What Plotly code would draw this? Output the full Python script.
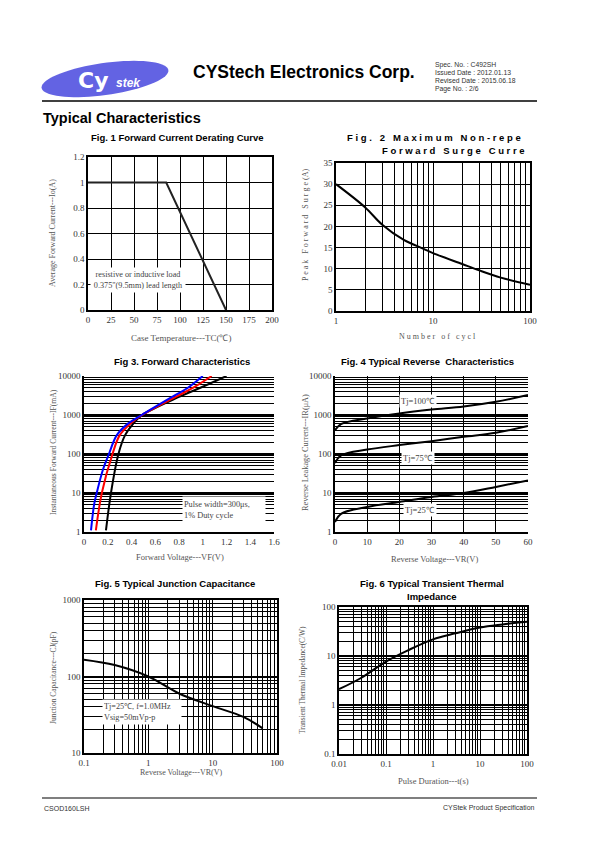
import numpy as np
import plotly.graph_objects as go

W, H = 595, 842
def px(x): return x / W
def py(y): return 1 - y / H

# ---------------- data ----------------
fig1_temp = [0, 85, 150]
fig1_current = [1.0, 1.0, 0.0]

fig2_cycles = [1, 2, 3, 5, 8, 10, 20, 30, 50, 100]
fig2_surge = [30.0, 24.5, 20.4, 16.8, 14.7, 13.7, 11.1, 9.6, 7.9, 6.2]

fig3_v100 = [0.059, 0.085, 0.107, 0.16, 0.21, 0.275, 0.37, 0.486, 0.75, 0.875, 1.0]
fig3_i100 = [1.1, 5, 10, 40, 100, 300, 600, 1000, 3000, 5000, 10000]
fig3_v75 = [0.10, 0.15, 0.24, 0.30, 0.39, 0.49, 0.78, 0.92, 1.075]
fig3_i75 = [1.1, 10, 100, 300, 600, 1000, 3000, 5000, 10000]
fig3_v25 = [0.185, 0.227, 0.29, 0.345, 0.415, 0.49, 0.81, 0.98, 1.2]
fig3_i25 = [1.1, 10, 100, 300, 600, 1000, 3000, 5000, 10000]

fig4_vr = [0, 2, 10, 20, 30, 40, 50, 60]
fig4_ir100 = [410, 590, 815, 1100, 1380, 1650, 2180, 3250]
fig4_ir75 = [59, 93, 130, 169, 213, 276, 350, 520]
fig4_ir25 = [1.8, 2.96, 4.4, 5.9, 7.9, 10.0, 14.3, 21.0]

fig5_vr = [0.1, 0.3, 1, 3, 10, 30, 60]
fig5_cj = [166, 141, 100, 60, 41, 29.6, 21]

fig6_t = [0.01, 0.03, 0.1, 0.3, 1, 3, 10, 30, 100]
fig6_z = [2.1, 3.6, 7.7, 13.2, 21.9, 29, 38, 44, 50]

log_minor = lambda lo, hi: [m * 10 ** e for e in range(lo, hi) for m in range(2, 10)]

# ---------------- figure ----------------
fig = go.Figure()
LW = 2
fig.add_trace(go.Scatter(x=fig1_temp, y=fig1_current, mode="lines", line=dict(color="#222", width=LW), xaxis="x", yaxis="y"))
fig.add_trace(go.Scatter(x=fig2_cycles, y=fig2_surge, mode="lines", line=dict(color="black", width=LW, shape="spline"), xaxis="x2", yaxis="y2"))
fig.add_trace(go.Scatter(x=fig3_v25, y=fig3_i25, mode="lines", line=dict(color="black", width=LW, shape="spline"), xaxis="x3", yaxis="y3"))
fig.add_trace(go.Scatter(x=fig3_v75, y=fig3_i75, mode="lines", line=dict(color="red", width=LW, shape="spline"), xaxis="x3", yaxis="y3"))
fig.add_trace(go.Scatter(x=fig3_v100, y=fig3_i100, mode="lines", line=dict(color="blue", width=LW, shape="spline"), xaxis="x3", yaxis="y3"))
for ys in (fig4_ir100, fig4_ir75, fig4_ir25):
    fig.add_trace(go.Scatter(x=fig4_vr, y=ys, mode="lines", line=dict(color="black", width=LW, shape="spline"), xaxis="x4", yaxis="y4"))
fig.add_trace(go.Scatter(x=fig5_vr, y=fig5_cj, mode="lines", line=dict(color="black", width=LW, shape="spline"), xaxis="x5", yaxis="y5"))
fig.add_trace(go.Scatter(x=fig6_t, y=fig6_z, mode="lines", line=dict(color="black", width=LW, shape="spline"), xaxis="x6", yaxis="y6"))

tickfont = dict(family="Liberation Serif", size=9, color="#333")

def axis(domain, anchor, **kw):
    d = dict(domain=domain, anchor=anchor, tickfont=tickfont, showline=True, linecolor="black",
             linewidth=1.5, ticks="", zeroline=False, gridcolor="black", gridwidth=1, fixedrange=True,
             automargin=False)
    d.update(kw)
    return d

minor_grid = lambda vals: dict(tickmode="array", tickvals=vals, showgrid=True, gridcolor="black", gridwidth=1, ticks="")

layout = dict(
    template="none",
    width=W, height=H, autosize=False, margin=dict(l=0, r=0, t=0, b=0, pad=0, autoexpand=False),
    paper_bgcolor="white", plot_bgcolor="white", showlegend=False,
)
# Fig 1
layout["xaxis"] = axis([px(88), px(272)], "y", range=[0, 200], dtick=25, tick0=0, showgrid=True, mirror=True)
layout["yaxis"] = axis([py(310), py(157)], "x", range=[0, 1.2], dtick=0.2, tick0=0, showgrid=True, mirror=True)
# Fig 2
layout["xaxis2"] = axis([px(336), px(530)], "y2", type="log", range=[0, 2], tickvals=[1, 10, 100],
                        showgrid=True, mirror=True, minor=minor_grid(log_minor(0, 2)))
layout["yaxis2"] = axis([py(311), py(163)], "x2", range=[0, 35], dtick=5, tick0=0, showgrid=True, mirror=True)
# Fig 3
layout["xaxis3"] = axis([px(84), px(274)], "y3", range=[0, 1.6], showgrid=False,
                        tickvals=[0, 0.2, 0.4, 0.6, 0.8, 1, 1.2, 1.4, 1.6],
                        ticktext=["0", "0.2", "0.4", "0.6", "0.8", "1", "1.2", "1.4", "1.6"])
layout["yaxis3"] = axis([py(532), py(376)], "x3", type="log", range=[0, 4],
                        tickvals=[1, 10, 100, 1000, 10000], ticktext=["1", "10", "100", "1000", "10000"],
                        showgrid=True, gridwidth=2, minor=minor_grid(log_minor(0, 4)))
# Fig 4
layout["xaxis4"] = axis([px(335), px(528)], "y4", range=[0, 60], dtick=10, tick0=0, showgrid=True)
layout["yaxis4"] = axis([py(532), py(376)], "x4", type="log", range=[0, 4],
                        tickvals=[1, 10, 100, 1000, 10000], ticktext=["1", "10", "100", "1000", "10000"],
                        showgrid=True, gridwidth=2, minor=minor_grid(log_minor(0, 4)))
# Fig 5
layout["xaxis5"] = axis([px(84), px(277)], "y5", type="log", range=[-1, 2],
                        tickvals=[0.1, 1, 10, 100], ticktext=["0.1", "1", "10", "100"],
                        showgrid=True, mirror=True, minor=minor_grid(log_minor(-1, 2)))
layout["yaxis5"] = axis([py(753), py(600)], "x5", type="log", range=[1, 3],
                        tickvals=[10, 100, 1000], ticktext=["10", "100", "1000"],
                        showgrid=True, gridwidth=2, mirror=True, minor=minor_grid(log_minor(1, 3)))
# Fig 6
layout["xaxis6"] = axis([px(339), px(527)], "y6", type="log", range=[-2, 2],
                        tickvals=[0.01, 0.1, 1, 10, 100], ticktext=["0.01", "0.1", "1", "10", "100"],
                        showgrid=True, mirror=True, minor=minor_grid(log_minor(-2, 2)))
layout["yaxis6"] = axis([py(754), py(607)], "x6", type="log", range=[-1, 2],
                        tickvals=[0.1, 1, 10, 100], ticktext=["0.1", "1", "10", "100"],
                        showgrid=True, gridwidth=2, mirror=True, minor=minor_grid(log_minor(-1, 2)))
fig.update_layout(**layout)

SANS = "Liberation Sans"
SERIF = "Liberation Serif"
ann = []
def text(x, y, s, size=9, family=SERIF, color="#444", bold=False, angle=0, xanchor="center", **kw):
    if bold:
        s = "<b>" + s + "</b>"
    ann.append(dict(x=px(x), y=py(y), xref="paper", yref="paper", text=s, showarrow=False,
                    font=dict(family=family, size=size, color=color), textangle=angle,
                    xanchor=xanchor, yanchor="middle", **kw))

# header
text(191, 72, "CYStech Electronics Corp.", size=17.5, family=SANS, color="black", bold=True, xanchor="left")
for i, s in enumerate(["Spec. No. : C492SH", "Issued Date : 2012.01.13", "Revised Date : 2015.06.18", "Page No. : 2/6"]):
    text(433, 65 + i * 7.9, s, size=6.8, family=SANS, color="#333", xanchor="left")
text(41, 118, "Typical Characteristics", size=14.5, family=SANS, color="black", bold=True, xanchor="left")
text(93, 81, "Cy", size=22, family="DejaVu Sans", color="white", bold=True)
text(128, 83, "<i>stek</i>", size=12, family=SANS, color="white", bold=True)
# footer
text(42, 808, "CSOD160LSH", size=7, family=SANS, color="#333", xanchor="left")
text(537, 808, "CYStek Product Specification", size=7, family=SANS, color="#333", xanchor="right")

# titles
TS = 9.5
text(177, 137, "Fig. 1 Forward Current Derating Curve", size=TS, family=SANS, color="black", bold=True)
text(523, 137, "F i g .   2   M a x i m u m   N o n - r e p e", size=TS, family=SANS, color="black", bold=True, xanchor="right")
text(527, 150, "F o r w a r d   S u r g e   C u r r e", size=TS, family=SANS, color="black", bold=True, xanchor="right")
text(182, 361.5, "Fig 3. Forward Characteristics", size=TS, family=SANS, color="black", bold=True)
text(427, 361.5, "Fig. 4 Typical Reverse  Characteristics", size=TS, family=SANS, color="black", bold=True)
text(175, 583, "Fig. 5 Typical Junction Capacitance", size=TS, family=SANS, color="black", bold=True)
text(432, 583, "Fig. 6 Typical Transient Thermal", size=TS, family=SANS, color="black", bold=True)
text(432, 596, "Impedance", size=TS, family=SANS, color="black", bold=True)

# axis labels
AC = "#555"
text(181, 338, "Case Temperature---TC(℃)", size=9, color=AC)
text(53, 233, "Average Forward Current---Io(A)", size=8, color=AC, angle=-90)
text(437, 336, "N u m b e r   o f   c y c l", size=8, color=AC)
text(305, 225, "P e a k   F o r w a r d   S u r g e (A)", size=8, color=AC, angle=-90)
text(180, 557, "Forward Voltage---VF(V)", size=8.5, color=AC)
text(53, 452, "Instantaneous Forward Current---IF(mA)", size=7.6, color=AC, angle=-90)
text(434, 559, "Reverse Voltage---VR(V)", size=8.5, color=AC)
text(305, 453, "Reverse Leakage Current---IR(μA)", size=8.3, color=AC, angle=-90)
text(181, 772, "Reverse Voltage---VR(V)", size=8, color=AC)
text(53, 678, "Junction Capacitance---CJ(pF)", size=7.5, color=AC, angle=-90)
text(433, 781, "Pulse Duration---t(s)", size=8.5, color=AC)
text(302, 680, "Transient Thermal Impedance(C/W)", size=7.4, color=AC, angle=-90)

# in-plot boxes
text(138, 280, "resistive or inductive load<br>0.375\"(9.5mm) lead length", size=8.2, color="#444",
     bgcolor="white", width=92, height=22)
text(182, 510, "Pulse width=300μs,<br>1% Duty cycle", size=8.3, color="#444", xanchor="left",
     align="left", bgcolor="white", width=80, height=24)
text(102, 712, "Tj=25℃, f=1.0MHz<br>Vsig=50mVp-p", size=8.2, color="#444", xanchor="left",
     align="left", bgcolor="white", width=76, height=22)
text(418, 401, "Tj=100℃", size=8.5, color="#444", bgcolor="white")
text(418, 458, "Tj=75℃", size=8.5, color="#444", bgcolor="white")
text(420, 510, "Tj=25℃", size=8.5, color="#444", bgcolor="white")

# arrows in Fig 3 (data coords for tips)
def arrow(xv, yv, label, ax, ay):
    ann.append(dict(x=xv, y=yv, xref="x3", yref="y3", text=label, showarrow=True, arrowhead=2,
                    arrowsize=1, arrowwidth=1.6, arrowcolor="black", ax=ax, ay=ay,
                    font=dict(family=SERIF, size=8.5, color="#444"), bgcolor="white"))
arrow(0.25, 230, "Tj=100℃", 0, -44)
arrow(0.33, 126, "Tj=75℃", 44, 0)
arrow(0.30, 33, "Tj=25℃", 38, 0)

fig.update_layout(annotations=ann)

# logo ellipse and rules
t = np.linspace(0, 2 * np.pi, 72)
cx, cy, a, b, th = 105, 79, 64, 16, np.deg2rad(-8)
ex = cx + a * np.cos(t) * np.cos(th) - b * np.sin(t) * np.sin(th)
ey = cy + a * np.cos(t) * np.sin(th) + b * np.sin(t) * np.cos(th)
path = "M " + " L ".join(f"{px(x):.5f},{py(y):.5f}" for x, y in zip(ex, ey)) + " Z"
shapes = [
    dict(type="path", path=path, xref="paper", yref="paper", fillcolor="#6363e3", line=dict(width=0), layer="below"),
    dict(type="line", xref="paper", yref="paper", x0=px(42), x1=px(537), y0=py(101), y1=py(101), line=dict(color="black", width=1.5)),
    dict(type="line", xref="paper", yref="paper", x0=px(42), x1=px(537), y0=py(798), y1=py(798), line=dict(color="black", width=1.2)),
]
fig.update_layout(shapes=shapes)

fig.write_html("out.html", config={"displayModeBar": False, "responsive": False},
               post_script="document.body.style.margin='0';")
